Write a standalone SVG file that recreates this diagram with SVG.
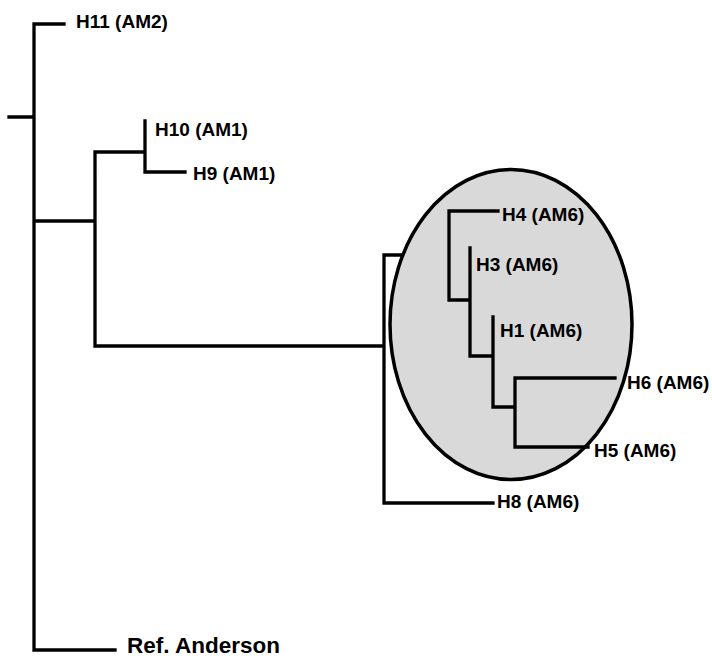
<svg xmlns="http://www.w3.org/2000/svg" width="712" height="658" viewBox="0 0 712 658">
<style>
.br{fill:none;stroke:#000;stroke-width:3.3;stroke-linecap:square;stroke-linejoin:miter}
.lbl{font-family:"Liberation Sans",Arial,sans-serif;font-weight:bold;font-size:19px;fill:#000}
.big{font-size:22.5px}
.clade{fill:#d9d9d9;stroke:#000;stroke-width:3.5}
</style>
<rect width="712" height="658" fill="#fff"/>
<g id="connectors">
<path class="br" d="M9 117H34M34 24V650M34 24H64M34 650H115M34 221H95M95 152V346M95 152H145M145 121V172M145 172H185M95 346H384M384 255V503M384 255H449M384 503H493"/>
</g>
<g id="clade-ellipse">
<ellipse class="clade" cx="511" cy="324.5" rx="121" ry="155"/>
</g>
<g id="clade-connectors">
<path class="br" d="M449 211V300M449 211H498M449 300H470M470 248V356M470 356H493M493 317V407M493 407H515M515 378V447M515 378H615M515 447H588"/>
</g>
<g id="H11"><text class="lbl" x="76" y="28">H11 (AM2)</text></g>
<g id="H10"><text class="lbl" x="155" y="136">H10 (AM1)</text></g>
<g id="H9"><text class="lbl" x="193" y="180">H9 (AM1)</text></g>
<g id="H4"><text class="lbl" x="502" y="221">H4 (AM6)</text></g>
<g id="H3"><text class="lbl" x="476" y="271">H3 (AM6)</text></g>
<g id="H1"><text class="lbl" x="500" y="337">H1 (AM6)</text></g>
<g id="H6"><text class="lbl" x="627" y="389">H6 (AM6)</text></g>
<g id="H5"><text class="lbl" x="594" y="457">H5 (AM6)</text></g>
<g id="H8"><text class="lbl" x="497" y="508">H8 (AM6)</text></g>
<g id="RefAnderson"><text class="lbl big" x="127" y="653">Ref. Anderson</text></g>
</svg>
